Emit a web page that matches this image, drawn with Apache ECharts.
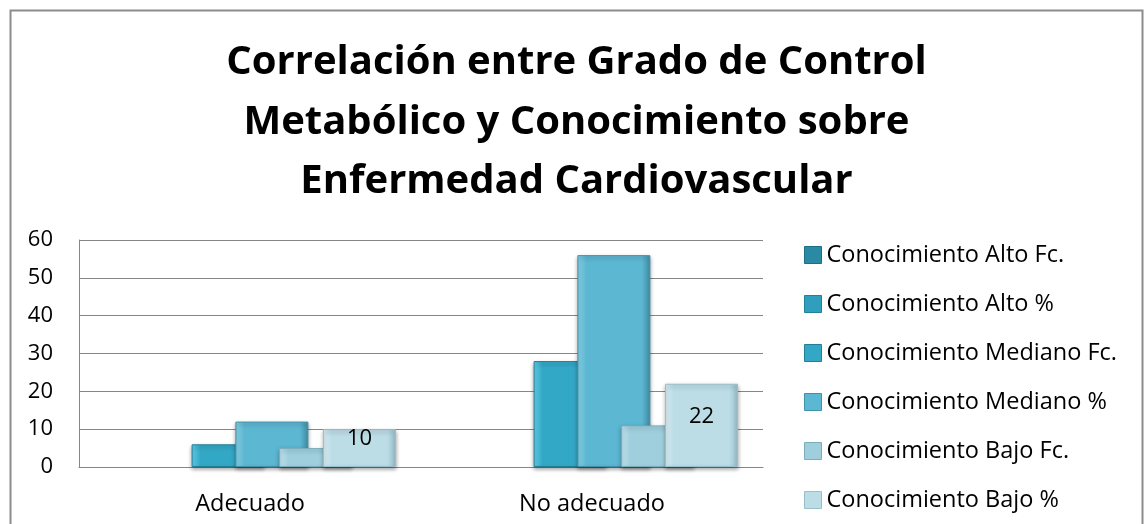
<!DOCTYPE html>
<html>
<head>
<meta charset="utf-8">
<script src="https://cdn.jsdelivr.net/npm/echarts@6/dist/echarts.min.js"></script>
<style>
html,body{margin:0;padding:0;background:#fff;}
#chart{width:1144px;height:524px;}
</style>
</head>
<body>
<div id="chart"></div>
<script>
const titleText = 'Correlación entre Grado de Control\nMetabólico y Conocimiento sobre\nEnfermedad Cardiovascular';
const categories = ['Adecuado', 'No adecuado'];
const seriesNames = [
  'Conocimiento Alto Fc.',
  'Conocimiento Alto %',
  'Conocimiento Mediano Fc.',
  'Conocimiento Mediano %',
  'Conocimiento Bajo Fc.',
  'Conocimiento Bajo %'
];
const altoFc = [0, 0];
const altoPct = [0, 0];
const medianoFc = [6, 28];
const medianoPct = [12, 56];
const bajoFc = [5, 11];
const bajoPct = [10, 22];
const yTicks = [0, 10, 20, 30, 40, 50, 60];

const seriesData = [altoFc, altoPct, medianoFc, medianoPct, bajoFc, bajoPct];
const colors = ['#2b8aa3', '#2f9fbd', '#33a8c6', '#5cb7d2', '#9fcfdd', '#bcdce6'];
const lightC = ['#4fb3cc', '#55c2de', '#62d0ea', '#88d2e6', '#c4e6f0', '#d9edf3'];
const darkC  = ['#1d6f85', '#22819a', '#237f98', '#4390a8', '#7aaebd', '#98c0cc'];

function grad(i){
  return new echarts.graphic.LinearGradient(0,0,1,0,[
    {offset:0,color:lightC[i]},
    {offset:0.12,color:colors[i]},
    {offset:0.88,color:colors[i]},
    {offset:1,color:darkC[i]}
  ]);
}

const FONT = 'Open Sans';
const chart = echarts.init(document.getElementById('chart'));
const series = seriesNames.map((name,i)=>({
  name: name,
  type: 'bar',
  data: seriesData[i].map(v => v === 0
    ? {value: v, itemStyle: {opacity: 0}}
    : v),
  barWidth: 73,
  barGap: '-40%',
  itemStyle: {
    color: grad(i),
    borderColor: darkC[i],
    borderWidth: 1,
    shadowColor: 'rgba(0,0,0,0.35)',
    shadowBlur: 4,
    shadowOffsetY: 2
  },
  label: i === 5 ? {
    show: true,
    position: 'inside',
    offset: [0, -9],
    fontFamily: FONT,
    fontSize: 22,
    color: '#000'
  } : {show:false}
}));

chart.setOption({
  animation: false,
  color: colors,
  legend: {
    orient: 'vertical',
    left: 804,
    top: 243,
    padding: 0,
    itemWidth: 17,
    itemHeight: 17,
    itemGap: 25,
    icon: 'rect',
    data: seriesNames.map((n,i)=>({name:n, itemStyle:{color:colors[i], borderColor:darkC[i], borderWidth:1}})),
    textStyle: {fontFamily: FONT, fontSize: 23.5, color: '#000'}
  },
  grid: {left: 79, right: 381, top: 240, bottom: 57, containLabel: false},
  xAxis: {
    type: 'category',
    data: categories,
    axisLine: {show: true, lineStyle: {color: '#868686', width: 1}},
    axisTick: {show: false},
    axisLabel: {fontFamily: FONT, fontSize: 23.5, color: '#000', margin: 25}
  },
  yAxis: {
    type: 'value',
    min: yTicks[0],
    max: yTicks[yTicks.length-1],
    interval: 10,
    axisLine: {show: true, lineStyle: {color: '#868686', width: 1}},
    axisTick: {show: false},
    axisLabel: {fontFamily: FONT, fontSize: 22, color: '#000', margin: 26},
    splitLine: {show: true, lineStyle: {color: '#868686', width: 1}}
  },
  graphic: [{
    type: 'text',
    x: 576.5,
    y: 33,
    silent: true,
    style: {
      text: titleText,
      align: 'center',
      verticalAlign: 'top',
      fontFamily: FONT,
      fontWeight: 'bold',
      fontSize: 40,
      lineHeight: 59.5,
      fill: '#000'
    }
  }, {
    type: 'rect',
    shape: {x: 10.5, y: 10.5, width: 1132, height: 530},
    style: {fill: 'none', stroke: '#8c8c8c', lineWidth: 2},
    silent: true,
    z: 100
  }],
  series: series
});
</script>
</body>
</html>
